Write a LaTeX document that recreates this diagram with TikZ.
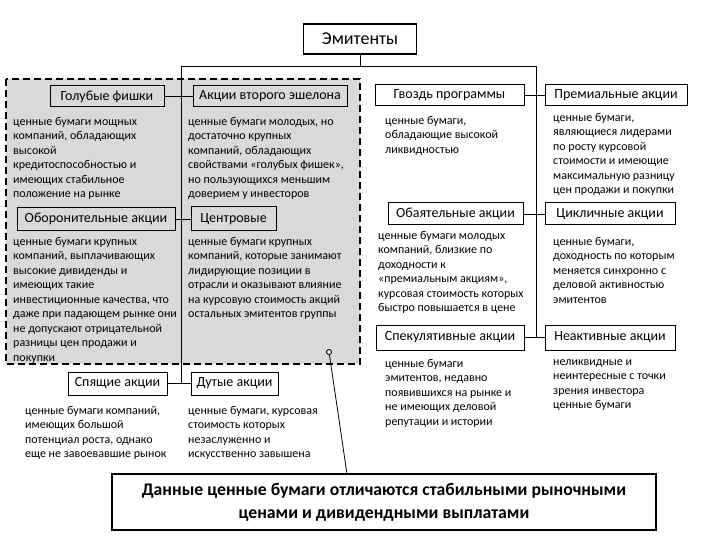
\documentclass[tikz,border=0pt]{standalone}
\usepackage{fontspec}
\setmainfont{Carlito}
\usetikzlibrary{positioning}

\definecolor{groupfill}{RGB}{217,217,217}

\begin{document}
\begin{tikzpicture}[
    x=1pt, y=-1pt,
    font=\fontsize{12}{14.5}\selectfont,
    kind/.style={rectangle,draw,line width=1pt,inner sep=0pt,minimum height=21pt,font=\fontsize{14}{16}\selectfont},
    head/.style={rectangle,draw,line width=1.8pt,inner sep=0pt,align=center},
    descr/.style={anchor=north west,align=left,inner sep=0pt},
    link/.style={line width=0.8pt},
    group/.style={draw,fill=groupfill,line width=1.6pt,dash pattern=on 7pt off 4pt}
]
\useasboundingbox (0,0) rectangle (720,540);

% серая область
\draw[group] (6,79) rectangle (360,364);

% корень
\node[head,minimum width=113pt,minimum height=30pt,font=\fontsize{18}{21}\selectfont] (top) at (360,39) {Эмитенты};

% левая ветвь
\node[kind,minimum width=114pt] (blue) at (107,96.5) {Голубые фишки};
\node[kind,minimum width=154pt] (second) at (270,96.5) {Акции второго эшелона};
\node[kind,minimum width=158pt,minimum height=23pt] (defens) at (96,219) {Оборонительные акции};
\node[kind,minimum width=85pt,minimum height=24pt] (centr) at (233.5,219) {Центровые};
\node[kind,minimum width=99pt,minimum height=23pt] (sleep) at (117.5,383.5) {Спящие акции};
\node[kind,minimum width=87pt,minimum height=23pt] (bubble) at (234.5,383.5) {Дутые акции};

% правая ветвь
\node[kind,minimum width=149pt] (nail) at (449.5,95.5) {Гвоздь программы};
\node[kind,minimum width=142pt] (prem) at (616,95.5) {Премиальные акции};
\node[kind,minimum width=135pt,minimum height=22pt] (charm) at (455.5,214) {Обаятельные акции};
\node[kind,minimum width=130pt,minimum height=22pt] (cycl) at (610,214) {Цикличные акции};
\node[kind,minimum width=148pt,minimum height=25pt] (spec) at (450,337.5) {Спекулятивные акции};
\node[kind,minimum width=130pt,minimum height=25pt] (inact) at (610,337.5) {Неактивные акции};

% описания
\node[descr] (blueTxt) at (13,117) {ценные бумаги мощных\\компаний, обладающих\\высокой\\кредитоспособностью и\\имеющих стабильное\\положение на рынке};
\node[descr] (secondTxt) at (188,117) {ценные бумаги молодых, но\\достаточно крупных\\компаний, обладающих\\свойствами «голубых фишек»,\\но пользующихся меньшим\\доверием у инвесторов};
\node[descr] (defensTxt) at (13,237) {ценные бумаги крупных\\компаний, выплачивающих\\высокие дивиденды и\\имеющих такие\\инвестиционные качества, что\\даже при падающем рынке они\\не допускают отрицательной\\разницы цен продажи и\\покупки};
\node[descr] (centrTxt) at (188,237) {ценные бумаги крупных\\компаний, которые занимают\\лидирующие позиции в\\отрасли и оказывают влияние\\на курсовую стоимость акций\\остальных эмитентов группы};
\node[descr] (sleepTxt) at (25,406) {ценные бумаги компаний,\\имеющих большой\\потенциал роста, однако\\еще не завоевавшие рынок};
\node[descr] (bubbleTxt) at (188,406) {ценные бумаги, курсовая\\стоимость которых\\незаслуженно и\\искусственно завышена};
\node[descr] (nailTxt) at (385,116) {ценные бумаги,\\обладающие высокой\\ликвидностью};
\node[descr] (premTxt) at (553,113) {ценные бумаги,\\являющиеся лидерами\\по росту курсовой\\стоимости и имеющие\\максимальную разницу\\цен продажи и покупки};
\node[descr] (charmTxt) at (378,231) {ценные бумаги молодых\\компаний, близкие по\\доходности к\\«премиальным акциям»,\\курсовая стоимость которых\\быстро повышается в цене};
\node[descr] (cyclTxt) at (553,237) {ценные бумаги,\\доходность по которым\\меняется синхронно с\\деловой активностью\\эмитентов};
\node[descr] (specTxt) at (385,359) {ценные бумаги\\эмитентов, недавно\\появившихся на рынке и\\не имеющих деловой\\репутации и истории};
\node[descr] (inactTxt) at (553,359) {неликвидные и\\неинтересные с точки\\зрения инвестора\\ценные бумаги};

% итог
\node[head,minimum width=544pt,minimum height=56pt,font=\fontsize{17.7}{23}\selectfont\bfseries] (note) at (384,502) {Данные ценные бумаги отличаются стабильными рыночными\\ценами и дивидендными выплатами};

% линии
\coordinate (forkL) at (181,66);
\coordinate (forkR) at (536,66);
\coordinate (endL) at (181,383.5);
\coordinate (endR) at (536,337.5);
\draw[link] (top) |- (forkL) -- (endL);
\draw[link] (top) |- (forkR) -- (endR);
\draw[link] (blue) -- (second);
\draw[link] (defens) -- (centr);
\draw[link] (sleep) -- (bubble);
\draw[link] (nail) -- (prem);
\draw[link] (charm) -- (cycl);
\draw[link] (spec) -- (inact);

% выноска
\coordinate (pinFoot) at (347,474);
\node[circle,draw,fill=white,line width=0.9pt,minimum size=5pt,inner sep=0pt] (pin) at (329,352) {};
\draw[link] (pin) -- (pinFoot);

\end{tikzpicture}
\end{document}
